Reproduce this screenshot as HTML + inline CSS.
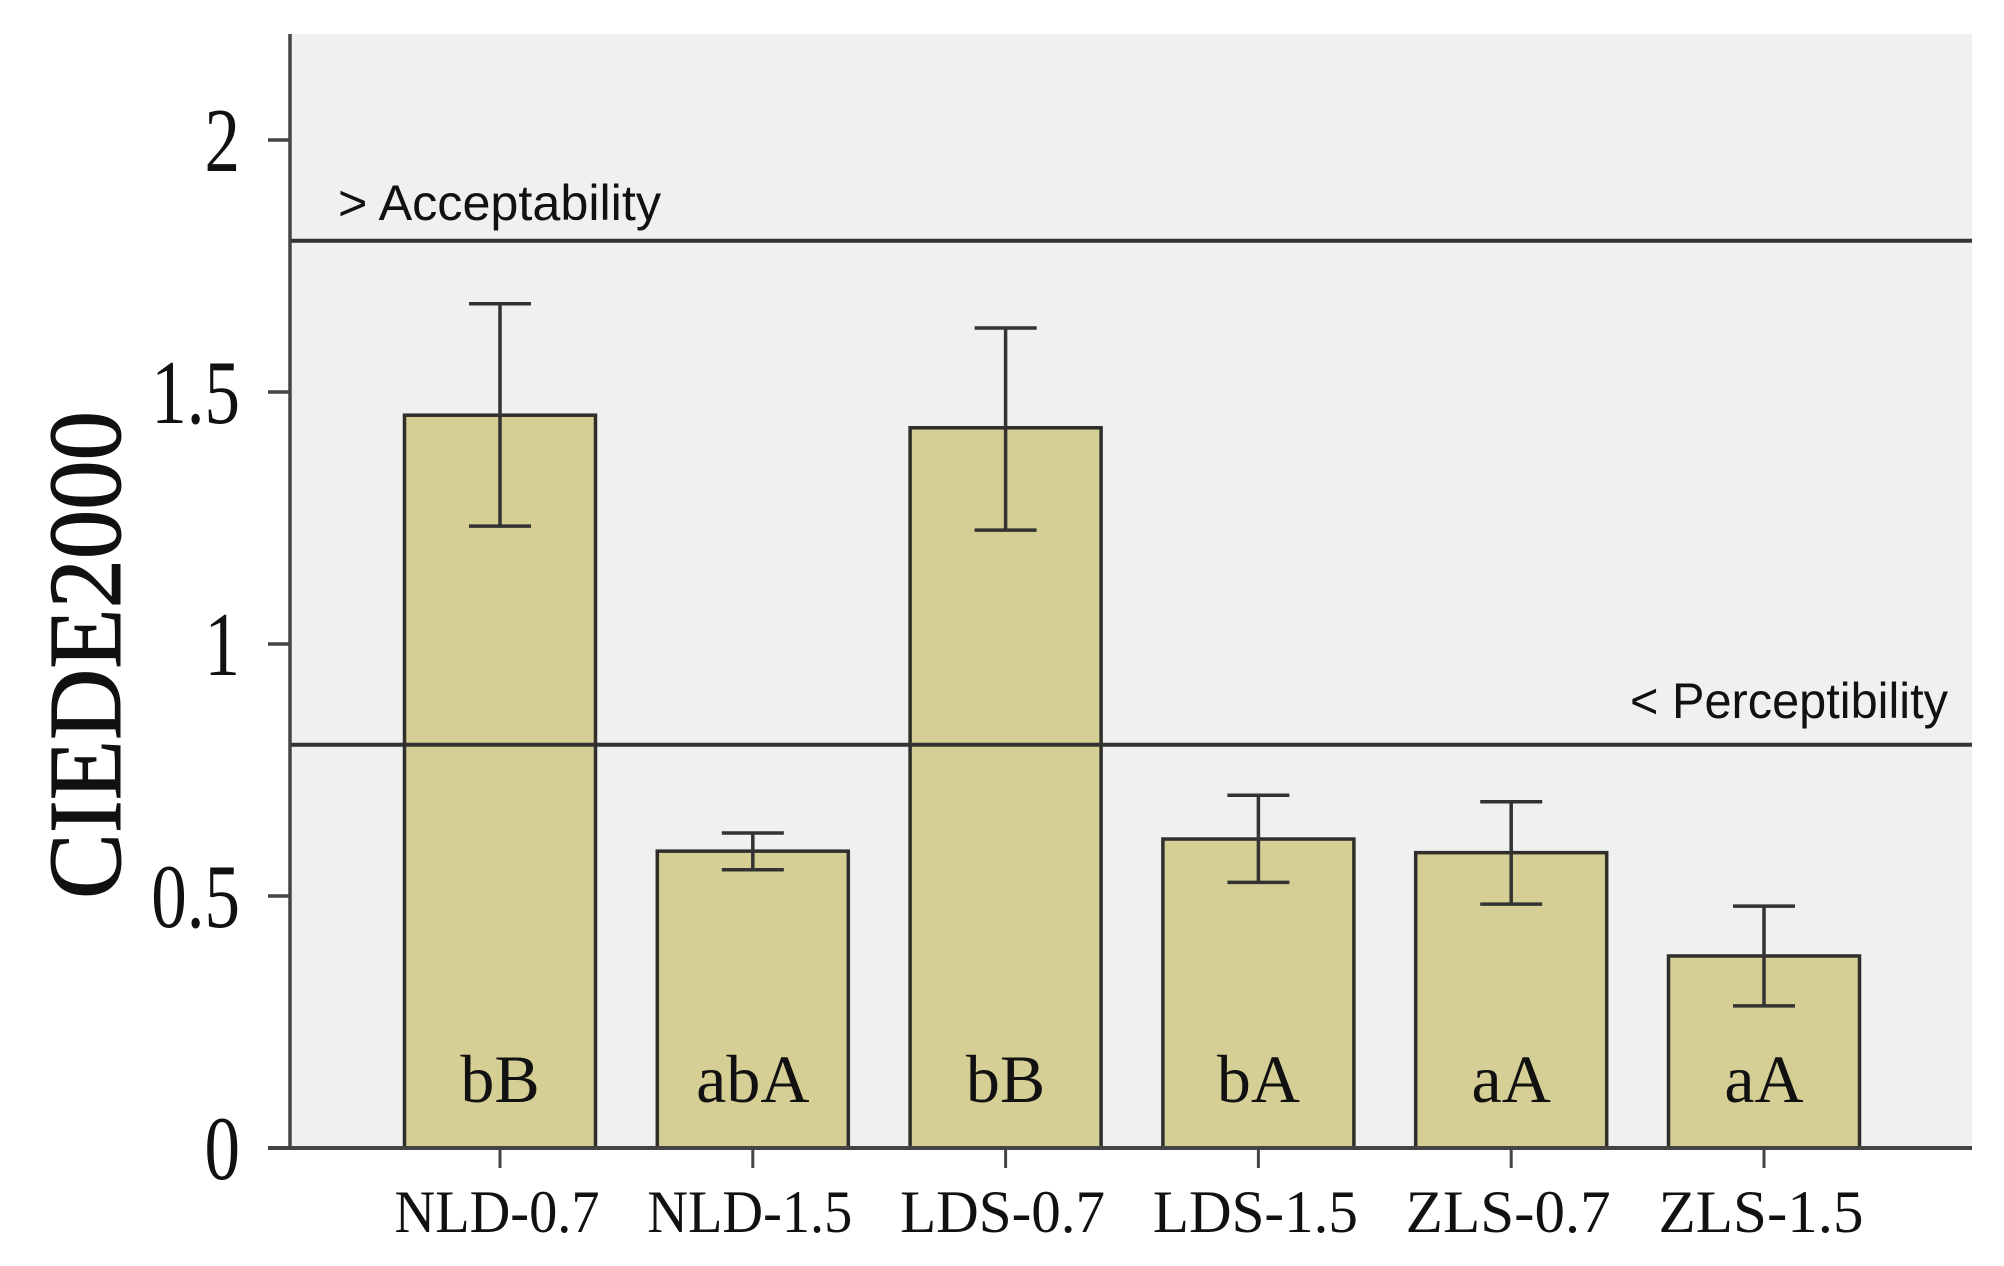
<!DOCTYPE html>
<html><head><meta charset="utf-8"><style>
html,body{margin:0;padding:0;background:#fff;}
svg{display:block;}
</style></head><body>
<svg id="chart" width="2004" height="1266" viewBox="0 0 2004 1266" xmlns="http://www.w3.org/2000/svg">
<rect x="290" y="34" width="1682" height="1114" fill="#f0f0f0"/>
<g id="bars"></g>
<g id="lines"></g>
<g id="axes"></g>
</svg>
<script>
const categories = ["NLD-0.7","NLD-1.5","LDS-0.7","LDS-1.5","ZLS-0.7","ZLS-1.5"];
const means = [1.454, 0.589, 1.429, 0.613, 0.586, 0.381];
const errUpper = [1.675, 0.625, 1.627, 0.700, 0.687, 0.480];
const errLower = [1.234, 0.552, 1.226, 0.527, 0.484, 0.282];
const groupLetters = ["bB","abA","bB","bA","aA","aA"];
const yTicks = [0, 0.5, 1, 1.5, 2];
const yTickLabels = ["0","0.5","1","1.5","2"];
const thresholds = [1.8, 0.8];
const thresholdLabels = ["> Acceptability","< Perceptibility"];

const NS = "http://www.w3.org/2000/svg";
const y0 = 1148, pxPerUnit = 504;
const yScale = v => y0 - v * pxPerUnit;
const xStart = 500, pitch = 252.8;
const xScale = i => xStart + i * pitch;
const barW = 191, capW = 62;
function mk(tag, attrs, parent, text){
  const e = document.createElementNS(NS, tag);
  for (const k in attrs) e.setAttribute(k, attrs[k]);
  if (text !== undefined) e.textContent = text;
  parent.appendChild(e); return e;
}
const gL = document.getElementById('lines'), gB = document.getElementById('bars'), gA = document.getElementById('axes');

thresholds.forEach((t, i) => {
  const ln = mk('line', {x1:290, x2:1972, y1:yScale(t), y2:yScale(t), stroke:'#333', 'stroke-width':4}, gL);
  
  
  const tx = i===0
    ? mk('text', {x:338, y:yScale(t)-21, 'font-family':'Liberation Sans, sans-serif', 'font-size':50, textLength:323, lengthAdjust:'spacingAndGlyphs', fill:'#111'}, gL, thresholdLabels[i])
    : mk('text', {x:1630, y:yScale(t)-27, 'font-family':'Liberation Sans, sans-serif', 'font-size':50, textLength:318, lengthAdjust:'spacingAndGlyphs', fill:'#111'}, gL, thresholdLabels[i]);
  
  
});

categories.forEach((c, i) => {
  const cx = xScale(i);
  const r = mk('rect', {x:cx-barW/2, y:yScale(means[i]), width:barW, height:y0-yScale(means[i]), fill:'#d6cf95', stroke:'#2e2e2a', 'stroke-width':3.5}, gB);
  
  
  const eb = mk('path', {d:`M${cx},${yScale(errUpper[i])}V${yScale(errLower[i])}M${cx-capW/2},${yScale(errUpper[i])}H${cx+capW/2}M${cx-capW/2},${yScale(errLower[i])}H${cx+capW/2}`, stroke:'#333', 'stroke-width':3.5, fill:'none'}, gB);
  
  
  const gl = mk('text', {x:cx, y:1102, 'text-anchor':'middle', 'font-family':'Liberation Serif, serif', 'font-size':68, fill:'#111'}, gB, groupLetters[i]);
  
  
  const tk = mk('line', {x1:cx, x2:cx, y1:y0, y2:y0+20, stroke:'#444', 'stroke-width':3}, gA);
  
  
  const lb = mk('text', {x:cx-3, y:1232, 'text-anchor':'middle', 'font-family':'Liberation Serif, serif', 'font-size':60, textLength:205, lengthAdjust:'spacingAndGlyphs', fill:'#111'}, gA, c);
  
  
});

const ya = mk('line', {x1:290, x2:290, y1:34, y2:y0, stroke:'#444', 'stroke-width':3.5}, gA);


const xa = mk('line', {x1:268, x2:1972, y1:y0, y2:y0, stroke:'#444', 'stroke-width':4}, gA);


yTicks.forEach((t, i) => {
  const tk = mk('line', {x1:268, x2:290, y1:yScale(t), y2:yScale(t), stroke:'#444', 'stroke-width':3.5}, gA);
  
  
  const lb = mk('text', {x:0, y:0, transform:`translate(240,${yScale(t)+31}) scale(0.78,1)`, 'text-anchor':'end', 'font-family':'Liberation Serif, serif', 'font-size':91, fill:'#111'}, gA, yTickLabels[i]);
  
  
});
const yt = mk('text', {x:0, y:0, transform:'translate(120,655) rotate(-90)', 'text-anchor':'middle', 'font-family':'Liberation Serif, serif', 'font-size':104, textLength:488, lengthAdjust:'spacingAndGlyphs', stroke:'#111', 'stroke-width':1, fill:'#111'}, gA, 'CIEDE2000');


</script>
</body></html>
